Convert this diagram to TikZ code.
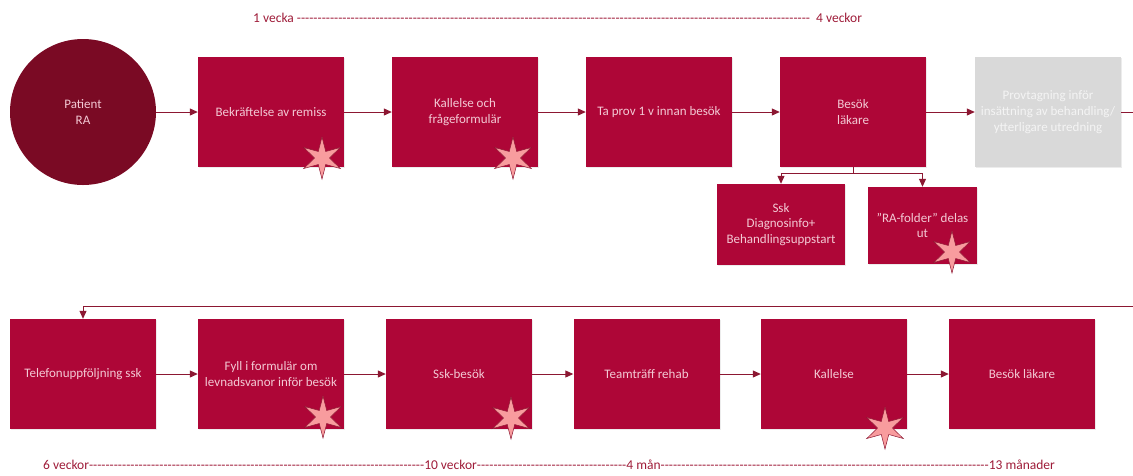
\documentclass[tikz,border=0pt]{standalone}
\usepackage{fontspec}
\setmainfont{Carlito}
\usetikzlibrary{arrows.meta,shapes.geometric,shadows}
\definecolor{boxred}{HTML}{AE0637}
\definecolor{circred}{HTML}{7A0A24}
\definecolor{boxtext}{HTML}{F3C9D4}
\definecolor{linered}{HTML}{8C1732}
\definecolor{greybox}{HTML}{D9D9D9}
\definecolor{greytext}{HTML}{F4F4F4}
\definecolor{starfill}{HTML}{F89C9E}
\definecolor{timered}{HTML}{9E1B38}
\begin{document}
\begin{tikzpicture}[x=1pt,y=-1pt,
  every node/.style={font=\fontsize{13}{15.7}\selectfont},
  stepbox/.style={rectangle, fill=boxred, minimum width=146pt, minimum height=110pt, inner sep=0pt, text=boxtext, align=center,
    drop shadow={shadow xshift=1pt, shadow yshift=-1pt, fill=black!25, opacity=0.3}},
  subbox/.style={stepbox, minimum height=81pt},
  greystep/.style={stepbox, fill=greybox, text=greytext},
  pstar/.style={star, star points=6, star point ratio=2.8, minimum size=42pt, inner sep=0pt, fill=starfill, draw=linered, line width=0.5pt},
  arr/.style={draw=linered, line width=1pt, -{Triangle[length=8pt,width=7pt]}},
  plain/.style={draw=linered, line width=1pt},
  timeline/.style={text=timered, inner sep=0pt, anchor=west, font=\fontsize{13.5}{16}\selectfont}
]
\useasboundingbox (0,0) rectangle (1133,475);

% top row
\node[circle, fill=circred, minimum size=146pt, inner sep=0pt, text=boxtext, align=center] (pat) at (83,112) {Patient\\RA};
\node[stepbox] (b1) at (271,112) {Bekräftelse av remiss};
\node[stepbox] (b2) at (465,112) {Kallelse och\\frågeformulär};
\node[stepbox] (b3) at (659,112) {Ta prov 1 v innan besök};
\node[stepbox] (b4) at (853,112) {Besök\\läkare};
\node[greystep] (b5) at (1048,112) {Provtagning inför\\insättning av behandling/\\ytterligare utredning};

% sub boxes
\node[subbox, minimum width=128pt] (s1) at (781,224.5) {Ssk\\Diagnosinfo+\\Behandlingsuppstart};
\node[subbox, minimum width=109pt, minimum height=77pt] (s2) at (922.5,225.5) {”RA-folder” delas\\ut};

% bottom row
\node[stepbox] (t1) at (83,374) {Telefonuppföljning ssk};
\node[stepbox] (t2) at (271,374) {Fyll i formulär om\\levnadsvanor inför besök};
\node[stepbox] (t3) at (459,374) {Ssk-besök};
\node[stepbox] (t4) at (646.5,374) {Teamträff rehab};
\node[stepbox] (t5) at (834,374) {Kallelse};
\node[stepbox] (t6) at (1022,374) {Besök läkare};

% stars
\node[pstar] (st1) at (322,158) {};
\node[pstar] (st2) at (513,158) {};
\node[pstar] (st3) at (952,252) {};
\node[pstar] (st4) at (323,417) {};
\node[pstar] (st5) at (511,418) {};
\node[pstar] (st6) at (885,428) {};

% connectors top
\draw[arr] (pat) -- (b1);
\draw[arr] (b1) -- (b2);
\draw[arr] (b2) -- (b3);
\draw[arr] (b3) -- (b4);
\draw[arr] (b4) -- (b5);
\coordinate (rt) at (1133,112);
\draw[plain] (b5) -- (rt);
\draw[arr] (b4.south) -- ++(0,6) -| (s1);
\draw[arr] (b4.south) -- ++(0,6) -| (s2);

% return line
\coordinate (rb) at (1133,306);
\draw[arr] (rb) -| (t1);

% connectors bottom
\draw[arr] (t1) -- (t2);
\draw[arr] (t2) -- (t3);
\draw[arr] (t3) -- (t4);
\draw[arr] (t4) -- (t5);
\draw[arr] (t5) -- (t6);

% timelines
\node[timeline] (tl1) at (253,18) {\hbox to 609pt{1 vecka \xleaders\hbox{-}\hfill\ \ 4 veckor}};
\node[timeline] (tl2) at (43,465) {\hbox to 1012pt{6 veckor\xleaders\hbox{-}\hskip 0pt plus 332fil 10 veckor\xleaders\hbox{-}\hskip 0pt plus 148fil 4 mån\xleaders\hbox{-}\hskip 0pt plus 325fil 13 månader}};
\end{tikzpicture}
\end{document}
